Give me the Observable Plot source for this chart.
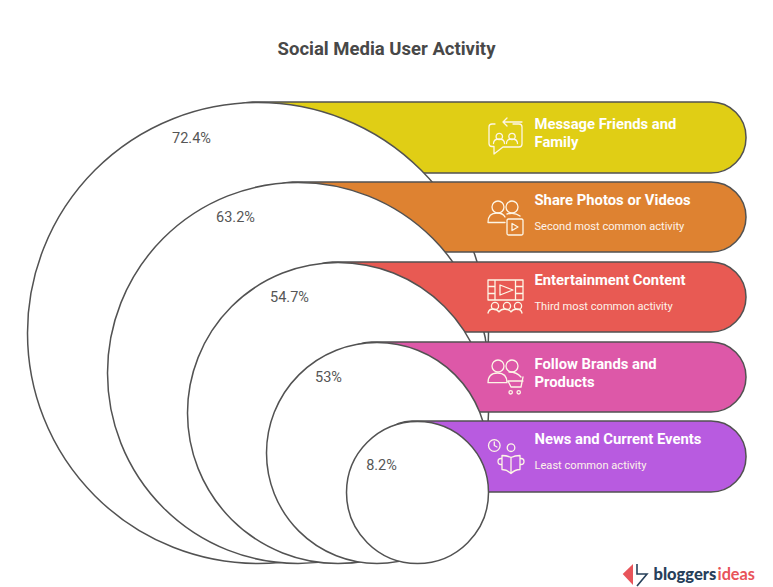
<!DOCTYPE html>
<html><head><meta charset="utf-8">
<script src="https://cdn.jsdelivr.net/npm/d3@7"></script>
<script src="https://cdn.jsdelivr.net/npm/@observablehq/plot@0.6"></script>
<style>html,body{margin:0;padding:0;background:#fff}svg{display:block}</style>
</head><body><div id="chart"></div>
<script>
// --- data
const activities = ["Message Friends and\nFamily","Share Photos or Videos","Entertainment Content","Follow Brands and\nProducts","News and Current Events"];
const notes = [null,"Second most common activity","Third most common activity",null,"Least common activity"];
const shares = [72.4,63.2,54.7,53,8.2];
const chartTitle = "Social Media User Activity";
const colors = ["#e0ce15","#de8231","#e85a53","#dd58a8","#b85be0"];

// --- layout of the nested-circle diagram (each rank steps down and to the right)
const W=773,H=587, ink="#525252";
const cx=[257.5,297.5,337.5,376.5,417], cy=[332.5,372.5,412.5,452.5,492], radii=[230.5,190.5,150.5,110.5,71];
const barTop=[102,182,262,342,421], barBottom=[173,252,332,412,492], barRight=746;
const labelDx=[-66.5,-62.5,-48.5,-48.5,-36], labelDy=[36,35,35,35,44];
const rows = activities.map((a,i)=>({i,a,note:notes[i],v:shares[i],c:colors[i],cx:cx[i],cy:cy[i],r:radii[i],top:barTop[i],bottom:barBottom[i]}));

const iconPaths = [
 "M-10,-13.5H-13q-3,0 -3,3V6q0,3 3,3H-11V16.5L-2,9.5H14q3,0 3,-3V-10.5q0,-3 -3,-3H8M17,-15.5H-2M2,-19.5L-2,-15.5L2,-11.5M-11.500,6q0,-4.500 5.500,-4.500q5.500,0 5.500,4.500M1.500,6q0,-4.500 5.500,-4.500q5.500,0 5.500,4.500",
 "M0,5.500H-17q0,-9.500 9,-9.500q6,0 8,4M2,-3q8,-2 13,2M2,3.500v13q0,1.500 1.500,1.500h13q1.500,0 1.500,-1.500v-13q0,-1.500 -1.500,-1.500h-13q-1.500,0 -1.500,1.500M7,6.500v7l6,-3.500z",
 "M-17,-17H18V3H-17ZM-10,-17V3M10.500,-17V3M-17,-10.500H-10M-17,-3.500H-10M10.500,-10.500H18M10.500,-3.500H18M-5,-12V-2L8,-7Z M-17,16q1,-4 5,-4q4,0 6,3q2,-3 6,-3q4,0 6,3q2,-3 6,-3q4,0 5,4",
 "M-17,5.700q0,-9.700 9.500,-9.700q9.500,0 9.500,9.700ZM4,-5q8,0 12,5M18,0L16,10H6L3,4H18",
 "M-3,-1V13q5,0 9,4q4,-4 9,-4V-1q-5,0 -9,2q-4,-2 -9,-2M6,1V17M-3,2H-4q-3,0 -3,3q0,3 3,3H-3M15,2H16q3,0 3,3q0,3 -3,3H15"
];
const iconCircles = [
 [[-5.700,-1,3.200],[7,-1,3.200]],
 [[-7,-10,6],[7,-10,6]],
 [[-10,9,3.600],[2,9,3.600],[13,9,3.600]],
 [[-7,-11,6],[7,-11,6],[5.700,15.300,1.700],[13.700,15.300,1.700]],
 [[-10.700,-11,5.800],[6,-8.800,3.800]]
];
const clockHands = "M-10.700,-14.500V-11L-8,-9.500";

function icons(index,{x,y}){
  const g=d3.create("svg:g").attr("fill","none").attr("stroke","#fdf6e6").attr("stroke-width",1.3).attr("stroke-linejoin","round").attr("stroke-linecap","round");
  rows.forEach((d,i)=>{
    const t=g.append("g").attr("transform",`translate(${x(505)},${y((d.top+d.bottom)/2)})`);
    t.append("path").attr("d",iconPaths[i]);
    if(i===4) t.append("path").attr("d",clockHands);
    iconCircles[i].forEach(c=>t.append("circle").attr("cx",c[0]).attr("cy",c[1]).attr("r",c[2]));
  });
  return g.node();
}
function logoShape(index,{x,y}){
  const g=d3.create("svg:g");
  g.append("path").attr("fill","#e8545a").attr("d",`M${x(622.7)},${y(574)}L${x(633)},${y(564)}V${y(585)}Z`);
  g.append("path").attr("fill","none").attr("stroke","#27405a").attr("stroke-width",1.6).attr("d",`M${x(637)},${y(564)}V${y(574)}H${x(647)}L${x(637)},${y(586)}`);
  return g.node();
}

const bold="Roboto, sans-serif";
const marks=[];
rows.forEach(d=>{
  marks.push(
    Plot.rect([d],{x1:e=>e.cx-40,x2:barRight,y1:"top",y2:"bottom",fill:"c",stroke:ink,strokeWidth:1.5,rx:35}),
    Plot.dot([d],{x:"cx",y:"cy",r:"r",fill:"#fff",stroke:ink,strokeWidth:1.5})
  );
});
marks.push(
  Plot.text(rows,{x:e=>e.cx+labelDx[e.i],y:e=>e.top+labelDy[e.i],text:e=>`${e.v}%`,fontFamily:bold,fontSize:14.5,fill:"#565656"}),
  Plot.text(rows,{x:534,y:e=>e.top+(e.note?16.3:30),text:"a",textAnchor:"start",lineHeight:1.22,fontFamily:bold,fontWeight:700,fontSize:14.8,fill:"#fff"}),
  Plot.text(rows.filter(e=>e.note),{x:534,y:e=>e.top+44,text:"note",textAnchor:"start",fontFamily:bold,fontSize:11.1,fill:"#fdf3ea"}),
  Plot.text([chartTitle],{x:386,y:49,text:d=>d,fontFamily:bold,fontWeight:700,fontSize:18.5,fill:"#484848"}),
  icons,
  logoShape,
  Plot.text(["bloggers"],{x:653,y:574,text:d=>d,textAnchor:"start",fontFamily:"Lato, sans-serif",fontWeight:900,fontSize:16.5,fill:"#27405a"}),
  Plot.text(["ideas"],{x:717,y:574,text:d=>d,textAnchor:"start",fontFamily:"Lato, sans-serif",fontWeight:700,fontSize:16.3,fill:"#e8545a"})
);
const chart=Plot.plot({
  width:W,height:H,margin:0,
  x:{domain:[0,W],range:[0,W],axis:null},
  y:{domain:[0,H],range:[0,H],axis:null},
  r:{type:"identity"},
  style:{background:"#fff"},
  marks
});
document.getElementById("chart").append(chart);
</script></body></html>
